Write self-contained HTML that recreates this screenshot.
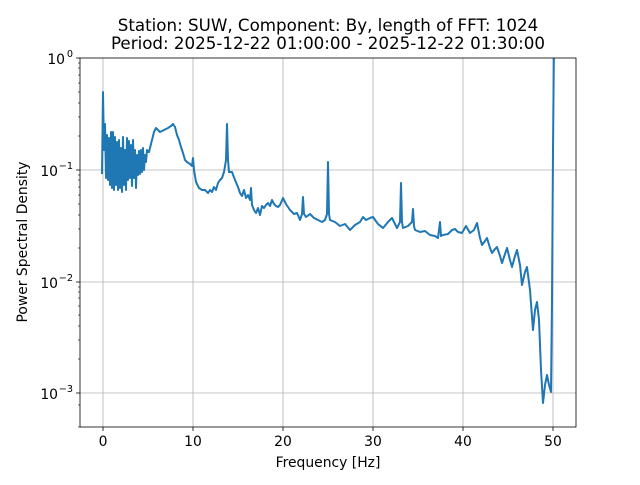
<!DOCTYPE html>
<html><head><meta charset="utf-8"><style>
html,body{margin:0;padding:0;background:#fff}
text{font-family:"DejaVu Sans","Liberation Sans",sans-serif;fill:#000}
</style></head><body>
<svg width="640" height="480" viewBox="0 0 640 480" xmlns="http://www.w3.org/2000/svg">
<rect width="640" height="480" fill="#fff"/>
<text x="328" y="31" font-size="16.7" text-anchor="middle">Station: SUW, Component: By, length of FFT: 1024</text>
<text x="328" y="49" font-size="16.7" text-anchor="middle">Period: 2025-12-22 01:00:00 - 2025-12-22 01:30:00</text>
<g stroke="#b0b0b0" stroke-width="0.8">
<line x1="103" y1="58" x2="103" y2="427"/><line x1="193" y1="58" x2="193" y2="427"/>
<line x1="283" y1="58" x2="283" y2="427"/><line x1="373" y1="58" x2="373" y2="427"/>
<line x1="463" y1="58" x2="463" y2="427"/><line x1="553" y1="58" x2="553" y2="427"/>
<line x1="80" y1="170" x2="576" y2="170"/><line x1="80" y1="282" x2="576" y2="282"/>
<line x1="80" y1="393" x2="576" y2="393"/>
</g>
<clipPath id="c"><rect x="80" y="58" width="496" height="369"/></clipPath>
<polyline clip-path="url(#c)" fill="none" stroke="#1f77b4" stroke-width="2" stroke-linejoin="round" points="
102,174 103,92 104,150 105,124 106,178 107,135 108,180 109,138 110,185 111,132 112,188 113,132 114,190 115,137 116,185 117,142 118,190 119,140 120,188 121,148 122,192 123,137 124,185 125,150 126,190 127,138 128,180 129,141 130,178 131,145 132,186 133,140 134,178 135,150 136,188 137,155 138,175 139,151 140,174 141,150 142,172 143,148 144,170 145,155 146,162 147,150 148,152 149,152 150,148 152,140 154,132 156,128 160,132 164,130 168,128 171,126 173,124 175,127 177,135 179,140 181,147 183,153 185,160 187,162 190,164 192,166 193,158 194,170 196,182 199,188 202,190 205,190 208,193 210,190 212,192 214,187 216,190 218,183 220,180 222,178 224,172 226,160 227,124 228,160 229,172 232,172 235,180 238,187 240,193 242,196 244,190 246,198 248,195 250,200 251,188 252,205 254,210 256,213 258,208 260,215 262,206 264,208 266,205 268,203 270,206 272,200 274,204 276,206 278,207 280,205 283,198 286,204 290,210 294,214 297,213 300,220 302,214 303,197 304,214 306,217 310,214 314,218 318,220 322,222 325,220 327,214 328,162 329,214 330,220 335,222 340,226 345,224 350,230 355,225 360,222 363,217 366,220 370,218 373,217 378,224 383,228 388,222 392,218 397,228 400,222 401,183 402,222 403,228 408,226 412,222 413,209 414,226 415,230 420,232 425,231 430,235 435,236 438,238 440,222 441,236 443,235 448,234 452,230 455,229 458,232 462,233 466,226 470,233 474,230 477,223 480,238 482,245 485,241 487,238 490,248 492,253 495,249 497,247 500,256 502,263 505,254 507,248 510,260 512,267 515,256 517,250 520,265 522,285 525,272 527,267 530,290 533,330 535,310 537,302 539,320 541,370 543,403 545,385 547,375 549,385 551,392 552,300 553,150 554,40"/>
<g stroke="#000" stroke-width="0.8">
<rect x="80" y="58" width="496" height="369" fill="none"/>
<line x1="103" y1="427" x2="103" y2="431"/><line x1="193" y1="427" x2="193" y2="431"/>
<line x1="283" y1="427" x2="283" y2="431"/><line x1="373" y1="427" x2="373" y2="431"/>
<line x1="463" y1="427" x2="463" y2="431"/><line x1="553" y1="427" x2="553" y2="431"/>
<line x1="76" y1="58" x2="80" y2="58"/><line x1="76" y1="170" x2="80" y2="170"/>
<line x1="76" y1="282" x2="80" y2="282"/><line x1="76" y1="393" x2="80" y2="393"/>
</g>
<g stroke="#000" stroke-width="0.6">
<line x1="78" y1="136" x2="80" y2="136"/><line x1="78" y1="117" x2="80" y2="117"/><line x1="78" y1="103" x2="80" y2="103"/><line x1="78" y1="92" x2="80" y2="92"/><line x1="78" y1="83" x2="80" y2="83"/><line x1="78" y1="75" x2="80" y2="75"/><line x1="78" y1="68" x2="80" y2="68"/><line x1="78" y1="63" x2="80" y2="63"/>
<line x1="78" y1="248" x2="80" y2="248"/><line x1="78" y1="229" x2="80" y2="229"/><line x1="78" y1="215" x2="80" y2="215"/><line x1="78" y1="204" x2="80" y2="204"/><line x1="78" y1="195" x2="80" y2="195"/><line x1="78" y1="187" x2="80" y2="187"/><line x1="78" y1="180" x2="80" y2="180"/><line x1="78" y1="175" x2="80" y2="175"/>
<line x1="78" y1="359" x2="80" y2="359"/><line x1="78" y1="340" x2="80" y2="340"/><line x1="78" y1="326" x2="80" y2="326"/><line x1="78" y1="315" x2="80" y2="315"/><line x1="78" y1="306" x2="80" y2="306"/><line x1="78" y1="298" x2="80" y2="298"/><line x1="78" y1="292" x2="80" y2="292"/><line x1="78" y1="287" x2="80" y2="287"/>
<line x1="78" y1="427" x2="80" y2="427"/><line x1="78" y1="405" x2="80" y2="405"/>
</g>
<g font-size="13.9" text-anchor="middle">
<text x="103" y="446">0</text><text x="193" y="446">10</text><text x="283" y="446">20</text>
<text x="373" y="446">30</text><text x="463" y="446">40</text><text x="553" y="446">50</text>
</g>
<g font-size="13.9" text-anchor="end">
<text x="65" y="64">10</text><text x="73" y="57" font-size="9.7">0</text>
<text x="58" y="176">10</text><text x="73" y="169" font-size="9.7">−1</text>
<text x="58" y="288">10</text><text x="73" y="281" font-size="9.7">−2</text>
<text x="58" y="399">10</text><text x="73" y="392" font-size="9.7">−3</text>
</g>
<text x="328" y="467" font-size="13.9" text-anchor="middle">Frequency [Hz]</text>
<text x="27" y="242" font-size="13.9" text-anchor="middle" transform="rotate(-90 27 242)">Power Spectral Density</text>
</svg>
</body></html>
